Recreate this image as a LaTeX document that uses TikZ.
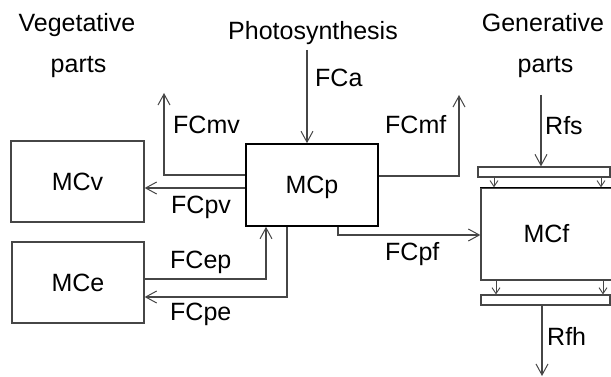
\documentclass[tikz,border=0pt]{standalone}
\usepackage{fontspec}
\setmainfont{Liberation Sans}
\usetikzlibrary{arrows.meta}
\definecolor{lc}{RGB}{70,70,70}
\begin{document}
\begin{tikzpicture}[x=1pt,y=-1pt,
  ln/.style={draw=lc,line width=1.3pt},
  arr/.style={ln,-{Straight Barb[length=11pt,width=12pt,line width=1pt]}},
  sarr/.style={ln,line width=1pt,-{Straight Barb[length=6pt,width=8pt,line width=0.9pt]}},
  box/.style={draw=lc,line width=1.3pt,inner sep=0pt,text height=18pt,text depth=0pt,font=\fontsize{25}{30}\selectfont},
  bar/.style={draw=lc,line width=1.2pt,fill=white,inner sep=0pt,minimum height=10pt},
  lbl/.style={anchor=base west,inner sep=0pt,font=\fontsize{25}{30}\selectfont},
  ttl/.style={anchor=base,inner sep=0pt,font=\fontsize{25}{30}\selectfont}]
\useasboundingbox (0,0) rectangle (611,377);
% boxes
\node[box,minimum width=133pt,minimum height=81pt] (MCv) at (77.5,181.5) {MCv};
\node[box,minimum width=132pt,minimum height=81pt] (MCe) at (78,282.5) {MCe};
\node[box,draw=black,line width=1.6pt,minimum width=132pt,minimum height=82pt] (MCp) at (312,185) {MCp};
\node[box,minimum width=131pt,minimum height=92pt] (MCf) at (546.5,234) {MCf};
\draw[black,line width=1.3pt] (MCf.north west) -- (MCf.north east);
\node[bar,minimum width=132pt] (barT) at (544,172) {};
\node[bar,minimum width=129pt] (barB) at (545.5,300) {};
% titles
\node[ttl] (veg1) at (77,32) {Vegetative};
\node[ttl] (veg2) at (78.5,73) {parts};
\node[ttl] (phot) at (313,40) {Photosynthesis};
\node[ttl] (gen1) at (543,32) {Generative};
\node[ttl] (gen2) at (545.5,73) {parts};
% connectors
\coordinate (faS) at (307,50);
\draw[arr] (faS) -- (faS |- MCp.north);
\coordinate (mvT) at (164,93);
\draw[arr] (MCp.west |- 0,175) -- (mvT |- 0,175) -- (mvT);
\draw[arr] (MCp.west |- 0,188) -- (MCv.east |- 0,188);
\coordinate (mfT) at (459,95);
\draw[arr] (MCp.east |- 0,176) -- (mfT |- 0,176) -- (mfT);
\coordinate (pfS) at (338,0);
\draw[arr] (pfS |- MCp.south) -- (pfS |- 0,235) -- (MCf.west |- 0,235);
\coordinate (epX) at (266,0);
\draw[arr] (MCe.east |- 0,279) -- (epX |- 0,279) -- (epX |- MCp.south);
\coordinate (peX) at (287,0);
\draw[arr] (peX |- MCp.south) -- (peX |- 0,297) -- (MCe.east |- 0,297);
\coordinate (rfsS) at (541,95);
\draw[arr] (rfsS) -- (rfsS |- barT.north);
\coordinate (s1) at (494,0);
\coordinate (s2) at (601,0);
\coordinate (s3) at (496,0);
\coordinate (s4) at (603,0);
\draw[sarr] (s1 |- barT.south) -- (s1 |- MCf.north);
\draw[sarr] (s2 |- barT.south) -- (s2 |- MCf.north);
\draw[sarr] (s3 |- MCf.south) -- (s3 |- barB.north);
\draw[sarr] (s4 |- MCf.south) -- (s4 |- barB.north);
\coordinate (rfhE) at (542,376);
\draw[arr] (rfhE |- barB.south) -- (rfhE);
% labels
\node[lbl] (lFCa) at (315,87) {FCa};
\node[lbl] (lFCmv) at (173,134) {FCmv};
\node[lbl] (lFCmf) at (385,134) {FCmf};
\node[lbl] (lRfs) at (545,135) {Rfs};
\node[lbl] (lFCpv) at (171,214) {FCpv};
\node[lbl] (lFCep) at (170,269) {FCep};
\node[lbl] (lFCpe) at (170,320) {FCpe};
\node[lbl] (lFCpf) at (385,260) {FCpf};
\node[lbl] (lRfh) at (547,345) {Rfh};
\end{tikzpicture}
\end{document}
